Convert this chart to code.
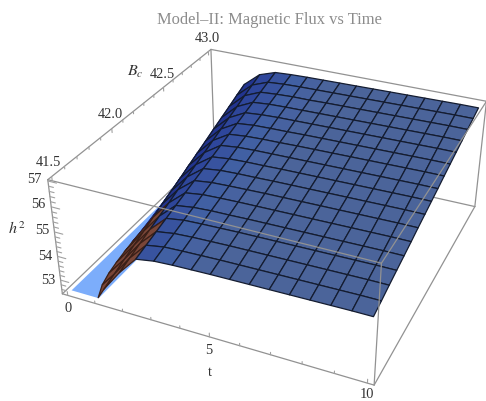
import numpy as np, matplotlib
matplotlib.use("Agg")
import matplotlib.pyplot as plt, seaborn as sns
sns.set_theme(style="white")
plt.rcParams['font.family']=['Liberation Serif','DejaVu Serif']
plt.rcParams['mathtext.fontset']='stix'
W,H=486,401

t_values=[1.0,1.25,1.875,2.5,3.125,3.75,4.375,5.0,5.625,6.25,6.875,7.5,8.125,8.75,9.375,10.0]
t_clip=[1.0,.75,.6,.5,.42,.35,.3,.25,.2,.16,.12,.09,.06,.04,.02,.01,0.0]
bc_values=[41.5,41.594,41.688,41.781,41.875,41.969,42.062,42.156,42.25,42.344,42.438,42.531,42.625,42.719,42.812,42.906,43.0]
h2_rows=[
[52.5,52.95,53.85,54.60,54.72,54.76,54.78,54.80,54.81,54.82,54.83,54.84,54.85,54.86,54.87,54.87],
[52.5,53.13,54.01,54.73,54.85,54.88,54.90,54.92,54.93,54.94,54.95,54.96,54.97,54.98,54.99,54.99],
[52.5,53.32,54.18,54.86,54.97,55.01,55.03,55.05,55.06,55.07,55.08,55.09,55.10,55.11,55.12,55.12],
[52.5,53.50,54.34,54.99,55.10,55.13,55.15,55.17,55.18,55.19,55.20,55.21,55.22,55.23,55.24,55.24],
[52.5,53.68,54.50,55.12,55.22,55.26,55.27,55.29,55.30,55.31,55.32,55.33,55.34,55.35,55.36,55.36],
[52.5,53.87,54.66,55.25,55.35,55.38,55.40,55.41,55.42,55.43,55.44,55.45,55.46,55.47,55.48,55.48],
[52.5,54.05,54.83,55.38,55.47,55.50,55.52,55.54,55.55,55.56,55.57,55.58,55.59,55.60,55.61,55.61],
[52.5,54.23,54.99,55.51,55.60,55.63,55.64,55.66,55.67,55.68,55.69,55.70,55.71,55.72,55.73,55.73],
[52.5,54.41,55.15,55.64,55.72,55.75,55.76,55.78,55.79,55.80,55.81,55.82,55.83,55.84,55.85,55.85],
[52.5,54.60,55.31,55.77,55.85,55.88,55.89,55.90,55.91,55.92,55.93,55.94,55.95,55.96,55.97,55.97],
[52.5,54.78,55.48,55.90,55.97,56.00,56.01,56.03,56.04,56.05,56.06,56.07,56.08,56.09,56.10,56.10],
[52.5,54.96,55.64,56.03,56.10,56.12,56.13,56.15,56.16,56.17,56.18,56.19,56.20,56.21,56.22,56.22],
[52.5,55.15,55.80,56.16,56.22,56.25,56.26,56.27,56.28,56.29,56.30,56.31,56.32,56.33,56.34,56.34],
[52.5,55.33,55.96,56.29,56.35,56.37,56.38,56.39,56.40,56.41,56.42,56.43,56.44,56.45,56.46,56.46],
[52.5,55.51,56.13,56.42,56.47,56.50,56.50,56.52,56.53,56.54,56.55,56.56,56.57,56.58,56.59,56.59],
[52.5,55.70,56.29,56.55,56.60,56.62,56.63,56.64,56.65,56.66,56.67,56.68,56.69,56.70,56.71,56.71],
[52.5,55.88,56.45,56.68,56.72,56.74,56.75,56.76,56.77,56.78,56.79,56.80,56.81,56.82,56.83,56.83],
]
t_ticks=[0,5,10]; bc_ticks=[41.5,42.0,42.5,43.0]; h2_ticks=[53,54,55,56,57]
t_minor=[1,2,3,4,6,7,8,9]
bc_minor=[41.6,41.7,41.8,41.9,42.1,42.2,42.3,42.4,42.6,42.7,42.8,42.9]
h2_minor=[52.6,52.8,53.2,53.4,53.6,53.8,54.2,54.4,54.6,54.8,55.2,55.4,55.6,55.8,56.2,56.4,56.6,56.8]
clip_level=52.5

fig=plt.figure(figsize=(W/100,H/100),dpi=100)
ax=fig.add_axes([46.76/W,-28.03/H,456.95/W,456.95/H],projection='3d',computed_zorder=False)
t0,t1,b0,b1,z0,z1=-0.2,10.2,41.47,43.03,52.41,57.05
ax.set_xlim(t0,t1,view_margin=0);ax.set_ylim(b0,b1,view_margin=0);ax.set_zlim(z0,z1,view_margin=0)
ax.view_init(31.2452,-65.8078,-0.0966);ax.set_proj_type('persp',focal_length=0.4389);ax.set_box_aspect((2.4996,2.5019,1))
ax.set_axis_off()

T,Bc=np.meshgrid(t_values,bc_values)
T[:,0]=t_clip
h=np.array(h2_rows)
to=matplotlib.colors.to_rgba
col_colors=['#1a2580','#22348f','#2e469b','#38539f','#4160a3','#4762a0','#4a649c']+['#4b649a']*9
rgba=np.array([[to(c) for c in col_colors] for _ in bc_values])
rgba[:5,0:2]=to('#7a4638')
rgba[:3,2]=to('#7a4638')
edges=np.array([[to('#141c30')]*(h.shape[1]-1)]*(h.shape[0]-1))
edges[5:,0]=to('#1a2580')
edges[:5,0:2]=to('#3a2018')
edges[:3,2]=to('#3a2018')

LC='#929292';LW=0.9
def seg(a,b,c,z): ax.plot(a,b,c,color=LC,lw=LW,zorder=z,solid_capstyle='round')
seg([t0,t1],[b1,b1],[z1,z1],1);seg([t0,t0],[b0,b1],[z1,z1],1);seg([t0,t0],[b1,b1],[z0,z1],1)
seg([t0,t0],[b0,b1],[z0,z0],1);seg([t0,t1],[b1,b1],[z0,z0],1)
ax.plot_surface(np.array([[0,1.0],[0,1.0]]),np.array([[41.5,41.5],[43.0,43.0]]),np.full((2,2),clip_level),color='#7cadfb',shade=False,linewidth=0,antialiased=False,zorder=2)
surf=ax.plot_surface(T,Bc,h,facecolors=rgba,rstride=1,cstride=1,shade=False,zorder=3)
surf.set_edgecolor(edges.reshape(-1,4));surf.set_linewidth(0.9)
seg([t0,t1],[b0,b0],[z1,z1],5);seg([t1,t1],[b0,b1],[z1,z1],5);seg([t1,t1],[b0,b0],[z0,z1],5)
seg([t1,t1],[b1,b1],[z0,z1],5);seg([t0,t0],[b0,b0],[z0,z1],5);seg([t0,t1],[b0,b0],[z0,z0],5);seg([t1,t1],[b0,b1],[z0,z0],5)
TC='#a0a0a0'
for v,l in [(v,.16) for v in t_ticks]+[(v,.1) for v in t_minor]:
    ax.plot([v,v],[b0,b0],[z0,z0+l],color=TC,lw=.8,zorder=5)
for v,l in [(v,.16) for v in bc_ticks]+[(v,.1) for v in bc_minor]:
    ax.plot([t0,t0],[v,v],[z1,z1-l],color=TC,lw=.8,zorder=5)
for v,l in [(v,.3) for v in h2_ticks]+[(v,.17) for v in h2_minor]:
    ax.plot([t0,t0+l],[b0,b0],[v,v],color=TC,lw=.8,zorder=5)
def lab(px,py,s,size=10.4,color='#333333'):
    fig.text(px/W,1-py/H,s,ha='center',va='center',fontsize=size,color=color)
for v,p in zip(t_ticks,[(68,309),(209,351),(367,395)]): lab(*p,str(v))
for v,p in zip(bc_ticks,[(48,163),(110,115),(162,74),(207,38)]): lab(*p,f'{v:.1f}')
for v,p in zip(h2_ticks,[(48,280),(45,256),(42,231),(38,205),(34,179)]): lab(*p,str(v))
lab(210,373,'t'); lab(135,72,r'$B_c$',size=11.5); lab(17,230,r'$h^2$',size=11.5)
lab(269.5,20,'Model\u2013II: Magnetic Flux vs Time',size=11.9,color='#8c8c8c')
fig.savefig('out.png',dpi=100)
